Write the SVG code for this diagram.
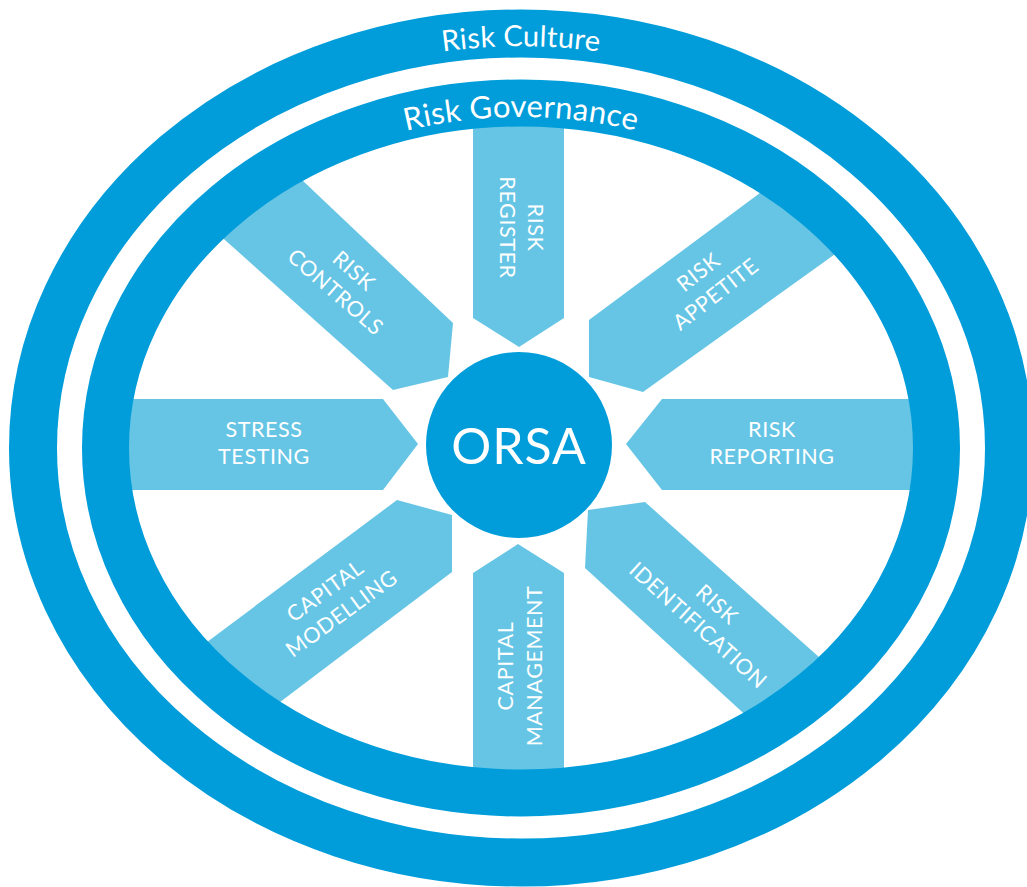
<svg xmlns="http://www.w3.org/2000/svg" width="1027" height="887" viewBox="0 0 1027 887">
  <defs>
    <style>
      .ring { fill: none; stroke: #009dda; }
      .spoke { fill: #66c5e5; }
      .lbl { font-family: Lato, "Noto Sans", sans-serif; font-size: 21.5px; fill: #ffffff; text-anchor: middle; letter-spacing: 0.6px; }
      .ringtxt { font-family: Lato, "Noto Sans", sans-serif; fill: #ffffff; text-anchor: middle; }
    </style>
    <clipPath id="innerClip">
      <ellipse cx="521" cy="448" rx="398" ry="327"/>
    </clipPath>
    <path id="culturePath" d="M 47 447 A 474 401 0 0 1 995 447"/>
    <path id="govPath" d="M 120 448 A 401 331 0 0 1 922 448"/>
  </defs>
  <rect width="1027" height="887" fill="#ffffff"/>

  <g id="risk-culture">
    <ellipse class="ring" cx="521" cy="448" rx="488" ry="414.5" stroke-width="48"/>
    <text class="ringtxt" font-size="29" letter-spacing="0.3"><textPath href="#culturePath" startOffset="50%">Risk Culture</textPath></text>
  </g>

  <g id="spokes" clip-path="url(#innerClip)">
    <g id="risk-register">
      <polygon class="spoke" points="473,100 564,100 564,318 519,347 473,318"/>
    </g>
    <g id="risk-appetite">
      <polygon class="spoke" points="931,66 589,320 589,377 643,392 1033,112"/>
    </g>
    <g id="risk-reporting">
      <polygon class="spoke" points="626,444 662,399 950,399 950,490 662,490"/>
    </g>
    <g id="risk-identification">
      <polygon class="spoke" points="588,510 645,502 995,814 895,852 585,568"/>
    </g>
    <g id="capital-management">
      <polygon class="spoke" points="518,544 564,573 564,800 473,800 473,573"/>
    </g>
    <g id="capital-modelling">
      <polygon class="spoke" points="452,515 397,500 17,784 108,832 452,572"/>
    </g>
    <g id="stress-testing">
      <polygon class="spoke" points="100,399 383,399 418,444 383,490 100,490"/>
    </g>
    <g id="risk-controls">
      <polygon class="spoke" points="151,37 453,323 448,377 393,390 57,90"/>
    </g>
  </g>

  <g id="risk-governance">
    <ellipse class="ring" cx="521" cy="448" rx="415.5" ry="345" stroke-width="47"/>
    <text class="ringtxt" font-size="31" letter-spacing="0.3"><textPath href="#govPath" startOffset="50%">Risk Governance</textPath></text>
  </g>

  <g id="labels">
    <text class="lbl" transform="translate(528,227.5) rotate(90)"><tspan x="0" y="0">RISK</tspan><tspan x="0" y="28">REGISTER</tspan></text>
    <text class="lbl" transform="translate(703,278) rotate(-38)"><tspan x="0" y="0">RISK</tspan><tspan x="0" y="28">APPETITE</tspan></text>
    <text class="lbl"><tspan x="772" y="437">RISK</tspan><tspan x="772" y="464">REPORTING</tspan></text>
    <text class="lbl" transform="translate(712,610) rotate(42)"><tspan x="0" y="0">RISK</tspan><tspan x="0" y="28">IDENTIFICATION</tspan></text>
    <text class="lbl" transform="translate(513,666) rotate(-90)"><tspan x="0" y="0">CAPITAL</tspan><tspan x="0" y="29">MANAGEMENT</tspan></text>
    <text class="lbl" transform="translate(329.5,597) rotate(-36)"><tspan x="0" y="0">CAPITAL</tspan><tspan x="0" y="28">MODELLING</tspan></text>
    <text class="lbl"><tspan x="264" y="437">STRESS</tspan><tspan x="264" y="464">TESTING</tspan></text>
    <text class="lbl" transform="translate(349,276.5) rotate(41)"><tspan x="0" y="0">RISK</tspan><tspan x="0" y="28">CONTROLS</tspan></text>
  </g>

  <g id="orsa">
    <circle cx="519" cy="445" r="93" fill="#009dda"/>
    <text x="519" y="464" font-family="Lato, 'Noto Sans', sans-serif" font-size="50" fill="#ffffff" text-anchor="middle" letter-spacing="1">ORSA</text>
  </g>
</svg>
